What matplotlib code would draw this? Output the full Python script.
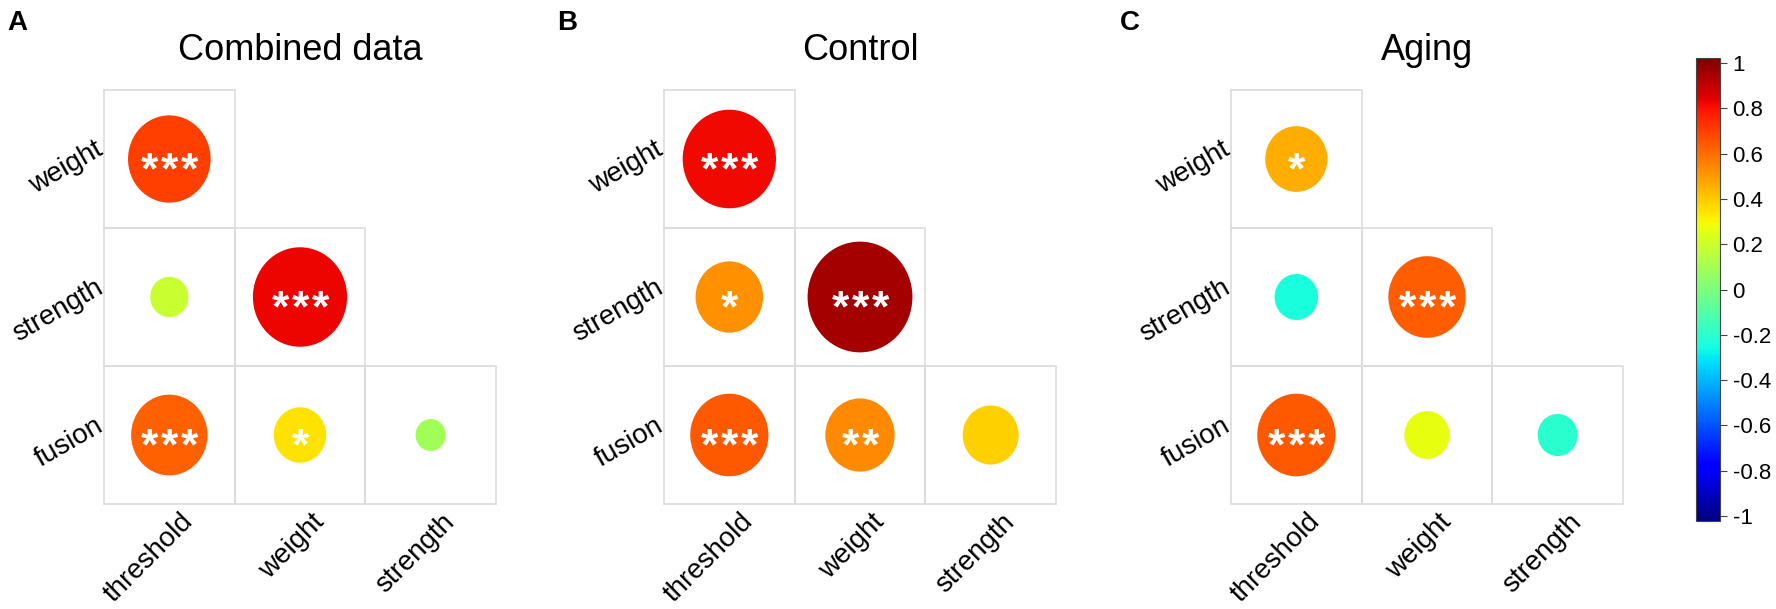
import numpy as np
import matplotlib
matplotlib.use("Agg")
import matplotlib.pyplot as plt
import matplotlib.transforms as mtransforms
from matplotlib.patches import Ellipse, Rectangle
from matplotlib.colors import Normalize
from matplotlib.colorbar import ColorbarBase

plt.rcParams['font.family'] = ['Liberation Sans', 'DejaVu Sans']

# variable names of the lower-triangle correlation matrix
row_names = ['weight', 'strength', 'fusion']
col_names = ['threshold', 'weight', 'strength']

panel_letters = ['A', 'B', 'C']
panel_titles = ['Combined data', 'Control', 'Aging']

# correlation coefficients, row by row (lower triangle)
combined_r = [[0.68], [0.18, 0.81], [0.61, 0.34, 0.09]]
control_r = [[0.80], [0.51, 0.93], [0.63, 0.53, 0.38]]
aging_r = [[0.45], [-0.24, 0.62], [0.63, 0.26, -0.20]]

# significance marks
combined_sig = [['***'], ['', '***'], ['***', '*', '']]
control_sig = [['***'], ['*', '***'], ['***', '**', '']]
aging_sig = [['*'], ['', '***'], ['***', '', '']]

cbar_ticks = [-1, -0.8, -0.6, -0.4, -0.2, 0, 0.2, 0.4, 0.6, 0.8, 1]

W, H = 1776, 609
fig = plt.figure(figsize=(W / 100, H / 100), dpi=100)
cmap = plt.get_cmap('jet')
norm = Normalize(-1, 1)


def px_axes(x0, y0, x1, y1):
    return fig.add_axes([x0 / W, 1 - y1 / H, (x1 - x0) / W, (y1 - y0) / H])


def shift(ax, dx, dy):
    # offset in pixels (dpi = 100)
    return ax.transData + mtransforms.ScaledTranslation(dx / 100, dy / 100, fig.dpi_scale_trans)


panel_left = [104, 664, 1231]
letter_x = [7, 557, 1120]
all_r = [combined_r, control_r, aging_r]
all_sig = [combined_sig, control_sig, aging_sig]
grid_col = '#dcdcdc'
star_fs = 32
star_gap = 20  # px between star centres

for p in range(3):
    left = panel_left[p]
    ax = px_axes(left, 90, left + 392, 504)
    ax.set_xlim(0, 3)
    ax.set_ylim(3, 0)
    ax.axis('off')
    for i in range(3):
        for j in range(i + 1):
            r = all_r[p][i][j]
            ax.add_patch(Rectangle((j, i), 1, 1, fill=False, ec=grid_col, lw=1.2, clip_on=False))
            d = 0.17 + 0.68 * abs(r)
            ax.add_patch(Ellipse((j + 0.5, i + 0.5), d, d, fc=cmap(norm(r)), ec='none'))
            sig = all_sig[p][i][j]
            n = len(sig)
            for k in range(n):
                dx = (k - (n - 1) / 2) * star_gap
                ax.text(j + 0.5, i + 0.5, '*', color='white', fontsize=star_fs, fontweight='bold',
                        ha='center', va='baseline',
                        transform=shift(ax, dx, -0.56 * star_fs * 100 / 72))
    for i, name in enumerate(row_names):
        ax.text(0, i + 0.5, name, fontsize=20, rotation=30, ha='right', va='center',
                rotation_mode='anchor', transform=shift(ax, -3, 11))
    for j, name in enumerate(col_names):
        ax.text(j + 0.5, 3, name, fontsize=20, rotation=45, ha='right', va='center',
                rotation_mode='anchor', transform=shift(ax, 20, -14))
    fig.text((left + 196) / W, 1 - 60 / H, panel_titles[p], fontsize=26, ha='center', va='baseline')
    fig.text(letter_x[p] / W, 1 - 30 / H, panel_letters[p], fontsize=20, fontweight='bold',
             ha='left', va='baseline')

# colorbar
cax = px_axes(1696, 58, 1720, 521)
cb = ColorbarBase(cax, cmap=cmap, norm=Normalize(-1.022, 1.022), ticks=cbar_ticks)
cb.set_ticklabels(['%g' % t for t in cbar_ticks])
cb.outline.set_linewidth(0.8)
cb.outline.set_edgecolor('#444444')
cax.tick_params(labelsize=16, length=5, width=0.8, color='#444444', pad=4)

fig.savefig('out.png', dpi=100)
